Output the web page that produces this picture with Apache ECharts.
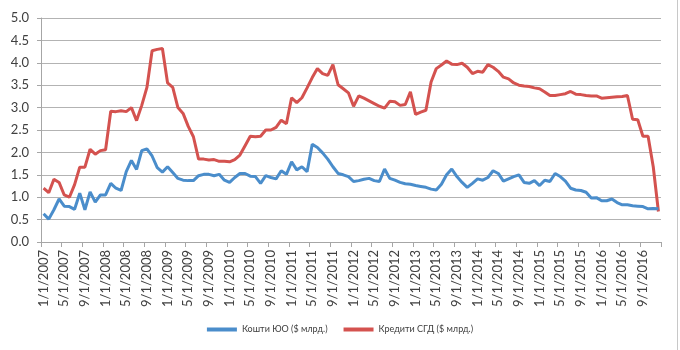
<!DOCTYPE html>
<html>
<head>
<meta charset="utf-8">
<script src="https://cdn.jsdelivr.net/npm/echarts@6/dist/echarts.min.js"></script>
<style>html,body{margin:0;padding:0;background:#fff;}#c{width:680px;height:350px;}</style>
</head>
<body>
<div id="c"></div>
<script>
// Monthly categories 1/1/2007 .. 12/1/2016
var categories = [];
for (var y = 2007; y <= 2016; y++) {
  for (var m = 1; m <= 12; m++) categories.push(m + '/1/' + y);
}
var seriesNames = ['Кошти ЮО ($ млрд.)', 'Кредити СГД ($ млрд.)'];
var koshtyUO = [
  0.63,0.51,0.72,0.96,0.80,0.79,0.73,1.09,0.72,1.12,0.89,1.05,
  1.05,1.31,1.20,1.15,1.57,1.82,1.62,2.04,2.08,1.92,1.66,1.56,
  1.68,1.55,1.42,1.38,1.37,1.37,1.48,1.51,1.51,1.48,1.51,1.38,
  1.33,1.44,1.53,1.53,1.47,1.46,1.31,1.48,1.44,1.41,1.59,1.51,
  1.79,1.61,1.68,1.57,2.18,2.11,1.99,1.85,1.68,1.53,1.50,1.46,
  1.35,1.37,1.40,1.42,1.37,1.35,1.63,1.42,1.38,1.33,1.30,1.29,
  1.26,1.24,1.22,1.18,1.16,1.29,1.50,1.63,1.46,1.33,1.22,1.31,
  1.41,1.38,1.44,1.59,1.53,1.36,1.41,1.46,1.50,1.33,1.31,1.37,
  1.26,1.38,1.35,1.53,1.46,1.36,1.20,1.16,1.15,1.11,0.98,0.99,
  0.92,0.92,0.96,0.88,0.83,0.83,0.81,0.80,0.79,0.74,0.75,0.74
];
var kredytySGD = [
  1.20,1.10,1.40,1.33,1.05,1.00,1.28,1.67,1.67,2.07,1.96,2.04,
  2.06,2.92,2.91,2.93,2.91,3.00,2.71,3.05,3.45,4.27,4.30,4.32,
  3.55,3.45,3.00,2.87,2.58,2.35,1.85,1.85,1.83,1.84,1.80,1.80,
  1.79,1.84,1.94,2.15,2.36,2.35,2.36,2.50,2.50,2.56,2.72,2.64,
  3.22,3.11,3.22,3.44,3.67,3.87,3.76,3.72,3.96,3.51,3.42,3.33,
  3.03,3.26,3.21,3.15,3.09,3.03,2.99,3.14,3.13,3.05,3.07,3.35,
  2.85,2.90,2.94,3.57,3.87,3.95,4.04,3.97,3.96,3.99,3.90,3.76,
  3.81,3.79,3.96,3.90,3.81,3.68,3.64,3.55,3.50,3.48,3.47,3.44,
  3.42,3.35,3.27,3.27,3.29,3.31,3.36,3.30,3.29,3.27,3.26,3.26,
  3.21,3.22,3.23,3.24,3.25,3.27,2.74,2.73,2.36,2.36,1.68,0.68
];
var yMin = 0, yMax = 5, yStep = 0.5;

var chart = echarts.init(document.getElementById('c'), null, {renderer: 'canvas'});
var font = 'Lato, "Open Sans", "DejaVu Sans", sans-serif';
chart.setOption({
  animation: false,
  backgroundColor: '#ffffff',
  grid: {left: 41, right: 19, top: 18, bottom: 108, containLabel: false},
  legend: {
    data: seriesNames,
    top: 320,
    left: 'center',
    itemWidth: 30,
    itemHeight: 4,
    itemGap: 16,
    icon: 'rect',
    textStyle: {fontFamily: font, fontSize: 9, color: '#404040'}
  },
  xAxis: {
    type: 'category',
    data: categories,
    boundaryGap: true,
    axisLine: {show: true, lineStyle: {color: '#a6a6a6', width: 1}},
    axisTick: {show: true, interval: 3, length: 5, lineStyle: {color: '#a6a6a6'}},
    axisLabel: {interval: 3, rotate: 90, fontFamily: font, fontSize: 13, color: '#404040', margin: 8},
    splitLine: {show: false}
  },
  yAxis: {
    type: 'value',
    min: yMin, max: yMax, interval: yStep,
    axisLine: {show: true, lineStyle: {color: '#a6a6a6', width: 1}},
    axisTick: {show: true, length: 4, lineStyle: {color: '#a6a6a6'}},
    axisLabel: {fontFamily: font, fontSize: 13, color: '#404040', margin: 12,
      formatter: function (v) { return v.toFixed(1); }},
    splitLine: {show: true, lineStyle: {color: '#b3b3b3', width: 1}}
  },
  series: [
    {name: seriesNames[0], type: 'line', data: koshtyUO, showSymbol: false, symbol: 'none',
     lineStyle: {width: 3, color: '#4a8dcb'}, itemStyle: {color: '#4a8dcb'}, z: 3},
    {name: seriesNames[1], type: 'line', data: kredytySGD, showSymbol: false, symbol: 'none',
     lineStyle: {width: 3, color: '#d4524f'}, itemStyle: {color: '#d4524f'}, z: 2}
  ],
  graphic: [{type: 'line', shape: {x1: 677.5, y1: 0, x2: 677.5, y2: 350}, style: {stroke: '#c8c8c8', lineWidth: 1}}]
});
</script>
</body>
</html>
